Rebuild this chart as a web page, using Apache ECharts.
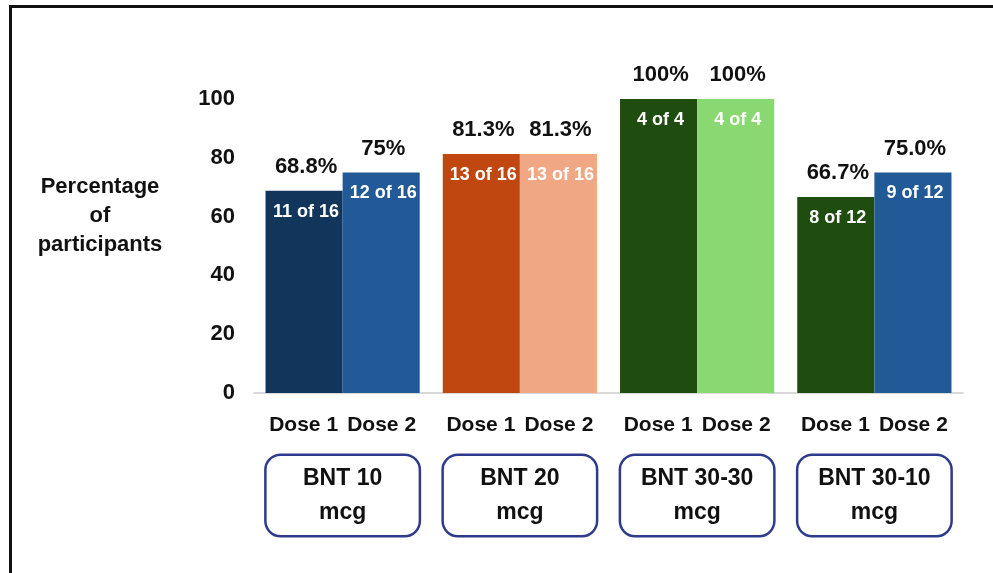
<!DOCTYPE html>
<html>
<head>
<meta charset="utf-8">
<title>Response by dose and regimen</title>
<script src="https://cdn.jsdelivr.net/npm/echarts@6/dist/echarts.min.js"></script>
<style>
  html, body { margin: 0; padding: 0; background: #fff; }
  #wrap { position: relative; width: 993px; height: 573px; overflow: hidden; }
  #chart { position: absolute; left: 0; top: 0; width: 993px; height: 573px; }
  #frame { position: absolute; left: 9px; top: 5px; right: -10px; bottom: -10px;
           border-left: 3px solid #111; border-top: 3px solid #111; pointer-events: none; }
</style>
</head>
<body>
<div id="wrap">
  <div id="chart"></div>
  <div id="frame"></div>
</div>
<script>
// Regimen groups shown along the x axis
const groups = ['BNT 10\nmcg', 'BNT 20\nmcg', 'BNT 30-30\nmcg', 'BNT 30-10\nmcg'];
const doseNames = ['Dose 1', 'Dose 2'];

// Percentage of participants per dose
const dose1Pct = [68.8, 81.3, 100, 66.7];
const dose2Pct = [75, 81.3, 100, 75.0];

// Printed percentage labels
const dose1PctText = ['68.8%', '81.3%', '100%', '66.7%'];
const dose2PctText = ['75%', '81.3%', '100%', '75.0%'];

// Participant counts
const dose1Count = ['11 of 16', '13 of 16', '4 of 4', '8 of 12'];
const dose2Count = ['12 of 16', '13 of 16', '4 of 4', '9 of 12'];

// Bar colours per group
const dose1Colors = ['#12355B', '#C14710', '#1E4D0F', '#1E4D0F'];
const dose2Colors = ['#215A96', '#F0A884', '#8AD872', '#215A96'];

const yTicks = { min: 0, max: 100, interval: 20 };

const FONT = '"Liberation Sans", Arial, Helvetica, sans-serif';

function buildData(values, colors, pctText, counts) {
  return values.map((v, i) => ({
    value: v,
    itemStyle: { color: colors[i] },
    label: { formatter: '{p|' + pctText[i] + '}\n{c|' + counts[i] + '}' }
  }));
}

// One label per bar: percentage above the bar, count just inside its top
const barLabel = {
  show: true,
  position: 'insideTop',
  distance: 0,
  offset: [2, -47],
  rich: {
    p: { fontFamily: FONT, fontWeight: 'bold', fontSize: 22, color: '#111', lineHeight: 46, align: 'center' },
    c: { fontFamily: FONT, fontWeight: 'bold', fontSize: 18, color: '#fff', lineHeight: 44, align: 'center' }
  }
};

const chart = echarts.init(document.getElementById('chart'), null, { renderer: 'canvas' });

chart.setOption({
  animation: false,
  backgroundColor: '#fff',
  textStyle: { fontFamily: FONT },
  grid: { left: 254, right: 30, top: 99, bottom: 180, containLabel: false },
  xAxis: [
    {
      type: 'category',
      data: groups,
      position: 'bottom',
      axisLine: { show: true, lineStyle: { color: '#D9D9D9', width: 2 } },
      axisTick: { show: false },
      axisLabel: {
        margin: 22,
        interval: 0,
        formatter: () => '{a|' + doseNames[0] + '}{b|' + doseNames[1] + '}',
        rich: {
          a: { fontFamily: FONT, fontWeight: 'bold', fontSize: 21, color: '#111', width: 78, align: 'center' },
          b: { fontFamily: FONT, fontWeight: 'bold', fontSize: 21, color: '#111', width: 78, align: 'center' }
        }
      }
    },
    {
      type: 'category',
      data: groups,
      position: 'bottom',
      axisLine: { show: false },
      axisTick: { show: false },
      axisLabel: {
        margin: 63,
        interval: 0,
        fontFamily: FONT,
        fontWeight: 'bold',
        fontSize: 23,
        color: '#111',
        lineHeight: 34,
        width: 152,
        align: 'center',
        padding: [6, 0, 5, 0],
        backgroundColor: '#fff',
        borderColor: '#2E3B8C',
        borderWidth: 2.5,
        borderRadius: 14
      }
    }
  ],
  yAxis: {
    type: 'value',
    min: yTicks.min,
    max: yTicks.max,
    interval: yTicks.interval,
    axisLine: { show: false },
    axisTick: { show: false },
    splitLine: { show: false },
    axisLabel: {
      margin: 19,
      fontFamily: FONT,
      fontWeight: 'bold',
      fontSize: 22,
      color: '#111'
    }
  },
  graphic: [
    {
      type: 'text',
      x: 100,
      y: 172,
      style: {
        text: 'Percentage\nof\nparticipants',
        fontFamily: FONT,
        fontWeight: 'bold',
        fontSize: 22,
        lineHeight: 29,
        fill: '#111',
        align: 'center',
        verticalAlign: 'top'
      }
    }
  ],
  series: [
    {
      name: doseNames[0],
      type: 'bar',
      xAxisIndex: 0,
      barGap: '0%',
      barCategoryGap: '13%',
      data: buildData(dose1Pct, dose1Colors, dose1PctText, dose1Count),
      label: barLabel
    },
    {
      name: doseNames[1],
      type: 'bar',
      xAxisIndex: 0,
      barGap: '0%',
      barCategoryGap: '13%',
      data: buildData(dose2Pct, dose2Colors, dose2PctText, dose2Count),
      label: barLabel
    }
  ]
});
</script>
</body>
</html>
